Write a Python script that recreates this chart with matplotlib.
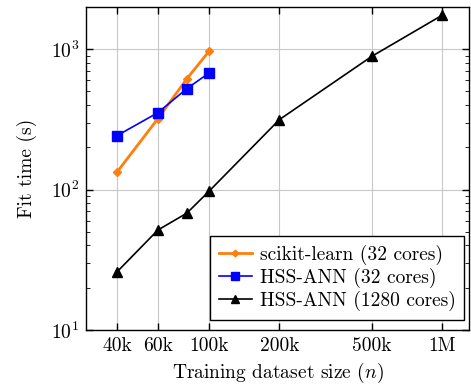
import matplotlib
matplotlib.use("Agg")
import matplotlib.pyplot as plt
from matplotlib.ticker import FixedLocator, NullLocator, LogLocator, NullFormatter

plt.rcParams['font.family'] = 'serif'
plt.rcParams['font.serif'] = ['cmr10']
plt.rcParams['mathtext.fontset'] = 'cm'
plt.rcParams['axes.formatter.use_mathtext'] = True
plt.rcParams['axes.unicode_minus'] = False

# data
n_sklearn = [40e3, 60e3, 80e3, 100e3]
t_sklearn = [133, 320, 616, 975]

n_hss32 = [40e3, 60e3, 80e3, 100e3]
t_hss32 = [242, 353, 524, 680]

n_hss1280 = [40e3, 60e3, 80e3, 100e3, 200e3, 500e3, 1e6]
t_hss1280 = [25.9, 51.5, 68, 98, 315, 890, 1740]

xticks = [40e3, 60e3, 100e3, 200e3, 500e3, 1e6]
xticklabels = ["40k", "60k", "100k", "200k", "500k", "1M"]

fig = plt.figure(figsize=(4.71, 3.84), dpi=100)
ax = fig.add_axes([0.183, 0.1406, 0.813, 0.8414])

ax.plot(n_sklearn, t_sklearn, color='#ff7f0e', marker='D', markersize=4.5,
        linewidth=2, label='scikit-learn (32 cores)', zorder=3)
ax.plot(n_hss32, t_hss32, color='#0000ff', marker='s', markersize=7,
        linewidth=1.2, label='HSS-ANN (32 cores)', zorder=3)
ax.plot(n_hss1280, t_hss1280, color='black', marker='^', markersize=7,
        linewidth=1.2, label='HSS-ANN (1280 cores)', zorder=3)

ax.set_xscale('log')
ax.set_yscale('log')
ax.set_xlim(29.5e3, 1.31e6)
ax.set_ylim(10, 2000)

ax.xaxis.set_major_locator(FixedLocator(xticks))
ax.set_xticklabels(xticklabels)
ax.xaxis.set_minor_locator(NullLocator())
ax.yaxis.set_major_locator(LogLocator(base=10, numticks=10))
ax.yaxis.set_minor_locator(LogLocator(base=10, subs=range(2, 10), numticks=10))
ax.yaxis.set_minor_formatter(NullFormatter())

ax.tick_params(which='both', direction='in', top=True, right=True, labelsize=14)
ax.tick_params(which='major', length=5, width=1, pad=5)
ax.tick_params(which='minor', length=3, width=0.6)
ax.grid(True, which='major', color='#c8c8c8', linewidth=0.8)
for s in ax.spines.values():
    s.set_linewidth(1)

ax.set_xlabel('Training dataset size ($n$)', fontsize=14, labelpad=4)
ax.set_ylabel('Fit time (s)', fontsize=14, labelpad=10)

leg = ax.legend(loc='lower right', fontsize=14, fancybox=False, edgecolor='black',
                framealpha=1, borderpad=0.45, handlelength=1.7, labelspacing=0.15,
                handletextpad=0.4, markerscale=0.75, borderaxespad=0,
                bbox_to_anchor=(0.987, 0.031))
leg.get_frame().set_linewidth(1)

fig.savefig('out.png', dpi=100)
